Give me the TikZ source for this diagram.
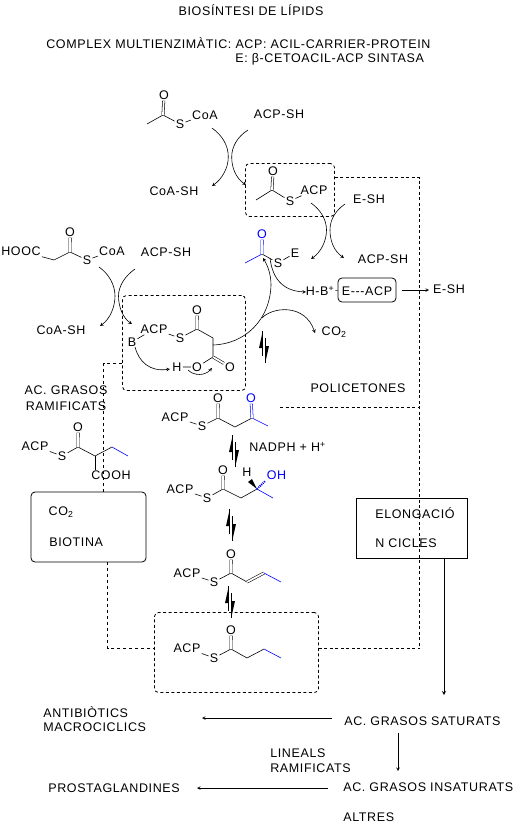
\documentclass[tikz,border=0pt]{standalone}
\usepackage{fontspec}
\setmainfont[LetterSpace=5]{Liberation Sans}
\usepackage{tikz}

\tikzset{
    txt/.style={inner sep=0pt, font=\fontsize{12.5}{14}\selectfont},
    atom/.style={inner sep=1pt, font=\fontsize{12.5}{14}\selectfont},
    dbl/.style={double, double distance=1.8pt, line width=0.55pt},
    dashbox/.style={draw, dashed, dash pattern=on 3pt off 2.5pt, rounded corners=4pt, line width=0.8pt},
    solidbox/.style={draw, line width=0.8pt},
    thindash/.style={dashed, dash pattern=on 3pt off 3pt, line width=0.7pt},
    thickdash/.style={dashed, dash pattern=on 3pt off 2.5pt, line width=1pt},
    eqarrows/.pic={
        \draw[line width=0.7pt] (-1.2,-16) -- (-1.2,9);
        \draw[line width=0.7pt] (1.2,-9) -- (1.2,16);
        \fill (-1.2,-16) -- (-5,1) -- (-1.2,1) -- cycle;
        \fill (1.2,16) -- (5,-1) -- (1.2,-1) -- cycle;
    }
}

\begin{document}
\begin{tikzpicture}[x=1pt, y=-1pt, >=stealth, line width=0.6pt]
    \useasboundingbox (0,0) rectangle (515,825);

    % Titles
    \node[txt] (title) at (251,10) {BIOSÍNTESI DE LÍPIDS};
    \node[txt, anchor=west] (complex) at (46,43) {COMPLEX MULTIENZIMÀTIC: ACP: ACIL-CARRIER-PROTEIN};
    \node[txt, anchor=west] (enzyme) at (235,59) {E: β-CETOACIL-ACP SINTASA};

    % Acetyl-CoA
    \coordinate (ac1) at (147,124);
    \coordinate (ac2) at (163,115);
    \node[atom] (aco) at (164,95) {O};
    \node[atom] (acs) at (180,124) {S};
    \node[atom] (accoa) at (205,115) {CoA};
    \draw (ac1) -- (ac2) -- (acs) -- (accoa);
    \draw[dbl] (ac2) -- (aco);

    \node[txt] (acpsha) at (279,114) {ACP-SH};
    \node[txt] (coasha) at (174,191) {CoA-SH};
    \draw[->] (212,128) .. controls (223,136) and (228.3,146) .. (228.3,157) .. controls (228.3,168) and (222,179) .. (212,186);
    \draw[->] (248,130) .. controls (237,137) and (231.7,147) .. (231.7,157) .. controls (231.7,168) and (236,178) .. (246,185);

    % Acetyl-ACP box
    \node[dashbox, minimum width=89pt, minimum height=53pt] (boxa) at (290,190) {};
    \coordinate (ap1) at (256,200);
    \coordinate (ap2) at (272,190);
    \node[atom] (apo) at (273,171) {O};
    \node[atom] (aps) at (290,201) {S};
    \node[atom] (apacp) at (314,190) {ACP};
    \draw (ap1) -- (ap2) -- (aps) -- (apacp);
    \draw[dbl] (ap2) -- (apo);

    \node[txt] (esha) at (369,199) {E-SH};
    \node[txt] (acpshb) at (383,259) {ACP-SH};
    \draw[->] (311,203) .. controls (321,210) and (326.5,220) .. (326.5,230) .. controls (326.5,241) and (321,252) .. (311,259);
    \draw[->] (345,204) .. controls (335,211) and (330,220) .. (330,230) .. controls (330,241) and (334,251) .. (344,258);

    % Acetyl-E
    \coordinate (ae1) at (245,263);
    \coordinate (ae2) at (262,254);
    \node[atom, text=blue] (aeo) at (262.1,234) {O};
    \node[atom] (aes) at (278,263) {S};
    \node[atom] (aee) at (295,253) {E};
    \draw[blue] (ae1) -- (ae2);
    \draw (ae2) -- (aes) -- (aee);
    \draw[dbl, blue] (ae2) -- (aeo);

    % E---ACP
    \node[atom] (hb) at (320,291) {H-B\textsuperscript{+}};
    \node[solidbox, rounded corners=4pt, minimum width=58pt, minimum height=24pt] (eacp) at (367,290) {};
    \node[txt] (eacpt) at (367,291) {E{-}{-}{-}ACP};
    \node[txt] (eshb) at (449,289) {E-SH};
    \draw (hb) -- (eacp);
    \coordinate (eout) at (402,290);
    \coordinate (ein) at (429,290);
    \draw[->] (eout) -- (ein);
    \draw[->] (270,258) .. controls (272,275) and (280,291) .. (306,292);

    \node[atom] (coo) at (334,332) {CO\textsubscript{2}};
    \coordinate (cos) at (262,318);
    \coordinate (coe) at (315,333);
    \draw[->] (cos) .. controls (272,307) and (305,303) .. (coe);
    \pic at (264,347) {eqarrows};

    % Malonyl-CoA
    \node[atom] (mhooc) at (21,251) {HOOC};
    \coordinate (mc1) at (54,260);
    \coordinate (mc2) at (70,252);
    \node[atom] (mo) at (70.1,232) {O};
    \node[atom] (ms) at (87,260) {S};
    \node[atom] (mcoa) at (112,251) {CoA};
    \draw (mhooc) -- (mc1) -- (mc2) -- (ms) -- (mcoa);
    \draw[dbl] (mc2) -- (mo);

    \node[txt] (acpshc) at (166,252) {ACP-SH};
    \node[txt] (coashb) at (61,330) {CoA-SH};
    \draw[->] (99,267) .. controls (109,274) and (115,285) .. (115,296) .. controls (115,307) and (110,319) .. (100,326);
    \draw[->] (135,269) .. controls (125,276) and (118.5,286) .. (118.5,296) .. controls (118.5,307) and (123,318) .. (132,324);

    % Malonyl-ACP box
    \node[dashbox, minimum width=123pt, minimum height=95pt] (boxb) at (184,343) {};
    \node[atom] (macp) at (154,329) {ACP};
    \node[atom] (mps) at (180,338) {S};
    \coordinate (mp1) at (197,329);
    \node[atom] (mpo) at (197.1,310) {O};
    \coordinate (mp2) at (213,338);
    \coordinate (mp3) at (213,357);
    \node[atom] (mpo2) at (230,367) {O};
    \node[atom] (mpo3) at (197,367) {O};
    \node[atom] (mph) at (177,367) {H};
    \node[atom] (mpb) at (132,342) {B};
    \draw (mpb) -- (macp) -- (mps) -- (mp1) -- (mp2) -- (mp3) -- (mpo3) -- (mph);
    \draw[dbl] (mp1) -- (mpo);
    \draw[dbl] (mp3) -- (mpo2);
    \draw[->] (135,347) .. controls (139,362) and (150,372) .. (170,369);
    \draw[->] (188,370) .. controls (194,376) and (205,376) .. (212,368);
    \coordinate (mpc) at (213,345);
    \draw[->] (mpc) .. controls (245,344) and (270,320) .. (271,285) .. controls (271,275) and (268,266) .. (263,258);

    % Dashed links
    \coordinate (ja) at (419.5,177.5);
    \coordinate (jb) at (419.5,648.5);
    \coordinate (jc) at (103.5,363.5);
    \coordinate (jd) at (107.5,648.5);
    \coordinate (je) at (280,407.5);
    \node[dashbox, minimum width=164pt, minimum height=80pt] (boxc) at (236.5,652.5) {};
    \node[solidbox, rounded corners=4pt, minimum width=115pt, minimum height=70pt] (biotina) at (88.5,527) {};
    \node[solidbox, minimum width=111pt, minimum height=60pt] (elong) at (411.5,528) {};
    \draw[thickdash] (boxa.east |- ja) -- (ja) -- (jb);
    \draw[thickdash] (boxc.east |- jb) -- (jb);
    \draw[thickdash] (je) -- (je -| ja);
    \draw[thindash] (boxb.west |- jc) -- (jc) -- (biotina.north -| jc);
    \draw[thindash] (biotina.south -| jd) -- (jd) -- (boxc.west |- jd);

    \node[txt] (grasos) at (66,390) {AC. GRASOS};
    \node[txt] (ramif) at (66,406) {RAMIFICATS};
    \node[txt] (polic) at (358,388) {POLICETONES};

    % Branched chain
    \node[atom] (racp) at (35,446) {ACP};
    \node[atom] (rs) at (62,456) {S};
    \coordinate (r1) at (78,447);
    \node[atom] (ro) at (78.1,427) {O};
    \coordinate (r2) at (95,456);
    \coordinate (r3) at (112,447);
    \coordinate (r4) at (128,456);
    \coordinate (r5) at (95,470);
    \node[atom, anchor=west] (rcooh) at (90,475) {COOH};
    \draw (racp) -- (rs) -- (r1) -- (r2) -- (r3);
    \draw (r2) -- (r5);
    \draw[blue] (r3) -- (r4);
    \draw[dbl] (r1) -- (ro);

    % Biotina
    \node[txt] (bco) at (61,512) {CO\textsubscript{2}};
    \node[txt, anchor=west] (biot) at (49,542) {BIOTINA};

    % Keto
    \node[atom] (kacp) at (175,417) {ACP};
    \node[atom] (ks) at (202,426) {S};
    \coordinate (k1) at (218,418);
    \node[atom] (ko) at (218.1,398) {O};
    \coordinate (k2) at (235,427);
    \coordinate (k3) at (252,418);
    \node[atom, text=blue] (ko2) at (251,398) {O};
    \coordinate (k4) at (268,426);
    \draw (kacp) -- (ks) -- (k1) -- (k2) -- (k3);
    \draw[blue] (k3) -- (k4);
    \draw[dbl] (k1) -- (ko);
    \draw[dbl, blue] (k3) -- (ko2);
    \pic at (234,451) {eqarrows};
    \node[txt, anchor=west] (nadph) at (249,447) {NADPH + H\textsuperscript{+}};

    % Hydroxy
    \node[atom] (hacp) at (180,489) {ACP};
    \node[atom] (hs) at (207,498) {S};
    \coordinate (h1) at (223,489);
    \node[atom] (ho) at (223.1,470) {O};
    \coordinate (h2) at (241,498);
    \coordinate (h3) at (257,489);
    \coordinate (h4) at (273,498);
    \node[atom] (hh) at (247,472) {H};
    \node[atom, text=blue, anchor=west] (hoh) at (265.5,475) {OH};
    \draw (hacp) -- (hs) -- (h1) -- (h2) -- (h3);
    \draw[blue] (h3) -- (h4);
    \draw[dbl] (h1) -- (ho);
    \fill (h3) -- (248,482) -- (252,479) -- cycle;
    \draw[blue, dash pattern=on 1pt off 1pt, line width=2pt] (h3) -- (hoh.south west);
    \pic at (231,525) {eqarrows};

    % Enoyl
    \node[atom] (eacpb) at (187,573) {ACP};
    \node[atom] (es) at (214,582) {S};
    \coordinate (e1) at (231,573);
    \node[atom] (eo) at (231.1,554) {O};
    \coordinate (e2) at (247,582);
    \coordinate (e3) at (264,573);
    \coordinate (e4) at (281,582);
    \draw (eacpb) -- (es) -- (e1) -- (e2);
    \draw[dbl] (e2) -- (e3);
    \draw[blue] (e3) -- (e4);
    \draw[dbl] (e1) -- (eo);
    \pic at (230,602) {eqarrows};

    % Butyryl
    \node[atom] (bacp) at (187,648) {ACP};
    \node[atom] (bs) at (214,658) {S};
    \coordinate (b1) at (231,649);
    \node[atom] (bo) at (231.1,630) {O};
    \coordinate (b2) at (247,658);
    \coordinate (b3) at (264,649);
    \coordinate (b4) at (281,658);
    \draw (bacp) -- (bs) -- (b1) -- (b2) -- (b3);
    \draw[blue] (b3) -- (b4);
    \draw[dbl] (b1) -- (bo);

    % Elongacio
    \node[txt, anchor=west] (elo) at (375,513) {ELONGACIÓ};
    \node[txt, anchor=west] (ncic) at (375,543) {N CICLES};
    \coordinate (satin) at (444,695);
    \draw[->, line width=0.8pt] (elong.south -| satin) -- (satin);

    % Products
    \node[txt, anchor=west] (sat) at (344,721) {AC. GRASOS SATURATS};
    \node[txt, anchor=west] (ins) at (343,787) {AC. GRASOS INSATURATS};
    \node[txt, anchor=west] (altres) at (343,817) {ALTRES};
    \node[txt, anchor=west] (lin) at (270,753) {LINEALS};
    \node[txt, anchor=west] (ram) at (270,768) {RAMIFICATS};
    \node[txt, anchor=west] (antib) at (43,712) {ANTIBIÒTICS};
    \node[txt, anchor=west] (macro) at (43,727) {MACROCICLICS};
    \node[txt, anchor=west] (prost) at (48,788) {PROSTAGLANDINES};
    \coordinate (sa) at (332,718);
    \coordinate (sb) at (202,718);
    \coordinate (sc) at (398,733);
    \coordinate (sd) at (398,771);
    \coordinate (se) at (328,788);
    \coordinate (sf) at (197,788);
    \draw[->] (sa) -- (sb);
    \draw[->] (sc) -- (sd);
    \draw[->] (se) -- (sf);
\end{tikzpicture}
\end{document}
